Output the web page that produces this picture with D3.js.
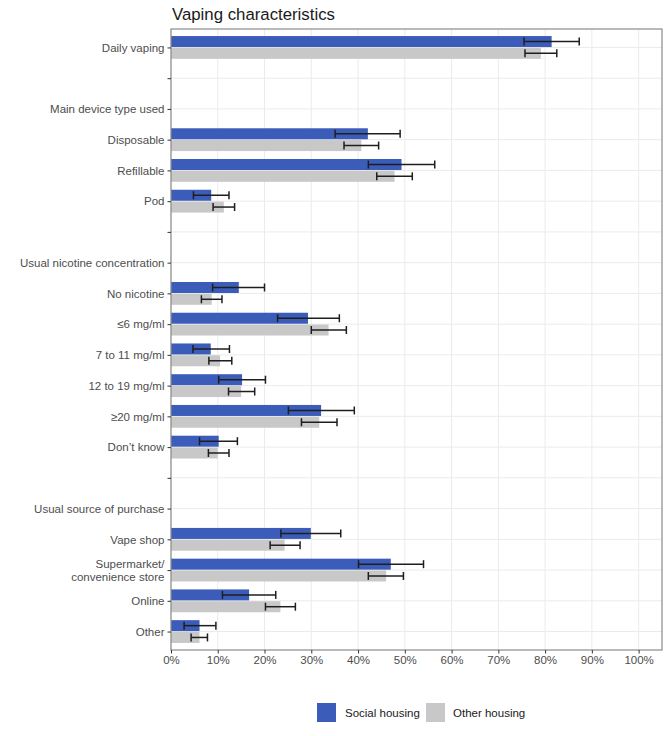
<!DOCTYPE html>
<html>
<head>
<meta charset="utf-8">
<script src="https://cdn.jsdelivr.net/npm/d3@7"></script>
<style>
  html, body { margin: 0; padding: 0; background: #fff; }
  svg { display: block; font-family: "Liberation Sans", Arial, sans-serif; }
</style>
</head>
<body>
<svg id="chart" width="669" height="736"></svg>
<script>
// Row layout of the y axis (blank spacer rows included)
const rows = ["Daily vaping", "_b1", "Main device type used", "Disposable", "Refillable", "Pod", "_b2",
  "Usual nicotine concentration", "No nicotine", "≤6 mg/ml", "7 to 11 mg/ml", "12 to 19 mg/ml", "≥20 mg/ml", "Don’t know", "_b3",
  "Usual source of purchase", "Vape shop", "Supermarket/\nconvenience store", "Online", "Other"];

// Categories with data
const categories = ["Daily vaping", "Disposable", "Refillable", "Pod",
  "No nicotine", "≤6 mg/ml", "7 to 11 mg/ml", "12 to 19 mg/ml", "≥20 mg/ml", "Don’t know",
  "Vape shop", "Supermarket/\nconvenience store", "Online", "Other"];

// Social housing (%)
const socialVal = [81.4, 42.1, 49.3, 8.6, 14.5, 29.3, 8.5, 15.2, 32.1, 10.2, 29.9, 47.0, 16.7, 6.1];
const socialLo  = [75.5, 35.1, 42.2, 4.8, 8.9, 22.8, 4.7, 10.2, 25.1, 6.1, 23.5, 40.1, 11.0, 2.8];
const socialHi  = [87.3, 49.0, 56.4, 12.4, 20.0, 36.0, 12.5, 20.2, 39.2, 14.2, 36.3, 54.0, 22.4, 9.6];

// Other housing (%)
const otherVal = [79.1, 40.7, 47.8, 11.3, 8.7, 33.7, 10.5, 15.0, 31.7, 10.0, 24.3, 46.0, 23.4, 6.1];
const otherLo  = [75.7, 37.0, 44.0, 9.0, 6.5, 30.0, 8.1, 12.3, 27.9, 8.0, 21.2, 42.2, 20.2, 4.3];
const otherHi  = [82.5, 44.4, 51.6, 13.6, 10.9, 37.5, 13.0, 17.9, 35.5, 12.4, 27.6, 49.7, 26.6, 7.8];

const xTicks = [0, 10, 20, 30, 40, 50, 60, 70, 80, 90, 100];
const seriesNames = ["Social housing", "Other housing"];
const seriesColors = ["#3c5cba", "#c8c8c8"];

const svg = d3.select("#chart");
const margin = { left: 171, right: 7, top: 29, bottom: 86 };
const W = 669, H = 736;
const x = d3.scaleLinear().domain([0, 105]).range([margin.left, W - margin.right]);
const y = d3.scalePoint().domain(rows).range([margin.top, H - margin.bottom]).padding(0.6);
const barH = 11;
const off = 5.9;

// Title
svg.append("text").attr("x", 172).attr("y", 20).attr("font-size", 16.8).attr("fill", "#1a1a1a")
  .text("Vaping characteristics");

// Grid
const g = svg.append("g");
g.selectAll(".vg").data(xTicks).join("line")
  .attr("x1", d => x(d)).attr("x2", d => x(d))
  .attr("y1", margin.top).attr("y2", H - margin.bottom)
  .attr("stroke", "#ebebeb").attr("stroke-width", 1);
g.selectAll(".hg").data(rows).join("line")
  .attr("x1", margin.left).attr("x2", W - margin.right)
  .attr("y1", d => y(d)).attr("y2", d => y(d))
  .attr("stroke", "#ebebeb").attr("stroke-width", 1);

// Data
const data = categories.map((c, i) => ({
  cat: c,
  s: [
    { k: 0, v: socialVal[i], lo: socialLo[i], hi: socialHi[i] },
    { k: 1, v: otherVal[i], lo: otherLo[i], hi: otherHi[i] }
  ]
}));

const flat = data.flatMap(d => d.s.map(s => ({ cat: d.cat, ...s })));
const yc = d => y(d.cat) + (d.k === 0 ? -off : off);

g.selectAll(".bar").data(flat).join("rect")
  .attr("x", x(0))
  .attr("y", d => yc(d) - barH / 2)
  .attr("width", d => x(d.v) - x(0))
  .attr("height", barH)
  .attr("fill", d => seriesColors[d.k]);

// Error bars
const capH = 8;
const eb = g.selectAll(".eb").data(flat).join("g").attr("stroke", "#1e1e1e").attr("stroke-width", 1.5);
eb.append("line").attr("x1", d => x(d.lo)).attr("x2", d => x(d.hi))
  .attr("y1", yc).attr("y2", yc);
eb.append("line").attr("x1", d => x(d.lo)).attr("x2", d => x(d.lo))
  .attr("y1", d => yc(d) - capH / 2).attr("y2", d => yc(d) + capH / 2);
eb.append("line").attr("x1", d => x(d.hi)).attr("x2", d => x(d.hi))
  .attr("y1", d => yc(d) - capH / 2).attr("y2", d => yc(d) + capH / 2);

// Panel border
svg.append("rect").attr("x", margin.left).attr("y", margin.top)
  .attr("width", W - margin.right - margin.left).attr("height", H - margin.bottom - margin.top)
  .attr("fill", "none").attr("stroke", "#8a8a8a").attr("stroke-width", 1.2);

// X axis
const xAxis = svg.append("g").attr("transform", `translate(0,${H - margin.bottom})`)
  .call(d3.axisBottom(x).tickValues(xTicks).tickFormat(d => d + "%").tickSize(3.5).tickPadding(2));
xAxis.select(".domain").remove();
xAxis.selectAll(".tick line").attr("stroke", "#333");
xAxis.selectAll(".tick text").attr("fill", "#4d4d4d").attr("font-size", 11.5)
  .attr("font-family", "Liberation Sans, Arial, sans-serif");

// Y axis
const yAxis = svg.append("g").attr("transform", `translate(${margin.left},0)`)
  .call(d3.axisLeft(y).tickSize(3.5).tickPadding(3).tickFormat(() => ""));
yAxis.select(".domain").remove();
yAxis.selectAll(".tick line").attr("stroke", "#333");
yAxis.selectAll(".tick").each(function (d) {
  if (d.startsWith("_b")) return;
  const t = d3.select(this).select("text")
    .attr("fill", "#4d4d4d").attr("font-size", 11.5)
    .attr("font-family", "Liberation Sans, Arial, sans-serif");
  const lines = d.split("\n");
  t.text(null);
  lines.forEach((ln, i) => {
    t.append("tspan").attr("x", -6.5)
      .attr("dy", i === 0 ? `${0.32 - (lines.length - 1) * 0.58}em` : "1.16em")
      .text(ln);
  });
  t.attr("dy", null);
});

// Legend
const lg = svg.append("g");
const legendItems = [{ x: 317, tx: 345 }, { x: 426, tx: 453 }];
seriesNames.forEach((n, i) => {
  lg.append("rect").attr("x", legendItems[i].x).attr("y", 703).attr("width", 19).attr("height", 19)
    .attr("fill", seriesColors[i]);
  lg.append("text").attr("x", legendItems[i].tx).attr("y", 716.5).attr("font-size", 11.5)
    .attr("fill", "#1a1a1a").text(n);
});
</script>
</body>
</html>
